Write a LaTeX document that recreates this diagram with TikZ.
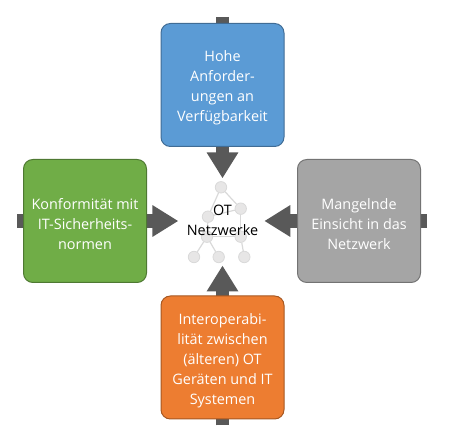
\documentclass[tikz,border=0pt]{standalone}
\usepackage{fontspec}
\setmainfont{Open Sans}
\usetikzlibrary{positioning, arrows.meta, backgrounds}
\definecolor{otBlue}{HTML}{5B9BD5}
\definecolor{otGreen}{HTML}{70AD47}
\definecolor{otGray}{HTML}{A5A5A5}
\definecolor{otOrange}{HTML}{ED7D31}
\definecolor{arrowGray}{HTML}{595959}
\definecolor{netFill}{HTML}{E7E6E6}
\definecolor{netLine}{HTML}{D9D9D9}
\newcommand{\toprule}{\rule{0pt}{12.5pt}}

\begin{document}
\begin{tikzpicture}[
    x=0.75pt, y=0.75pt,
    box/.style={draw, line width=0.75pt, rounded corners=7pt, text=white,
                minimum width=92.25pt, minimum height=92.25pt, inner sep=0pt,
                align=center, font=\fontsize{10.8}{15}\selectfont},
    arr/.style={-{Triangle[length=19.5pt, width=22.5pt]}, line width=10pt, draw=arrowGray},
    dot/.style={circle, fill=netFill, draw=netLine, line width=0.6pt, minimum size=8.6pt, inner sep=0pt},
    link/.style={draw=netLine, line width=0.9pt},
  ]
    \useasboundingbox (0,0) rectangle (450,432);

    \node[box, fill=otBlue, draw=otBlue!70!black] (avail) at (222.5,347)
      {\toprule Hohe\\Anforder-\\ungen an\\Verfügbarkeit};
    \node[box, fill=otGreen, draw=otGreen!70!black] (norm) at (85,211)
      {\toprule Konformität mit\\IT-Sicherheits-\\normen};
    \node[box, fill=otGray, draw=otGray!70!black] (insight) at (359,211)
      {\toprule Mangelnde\\Einsicht in das\\Netzwerk};
    \node[box, fill=otOrange, draw=otOrange!70!black] (interop) at (222.5,74.5)
      {\toprule Interoperabi-\\lität zwischen\\(älteren) OT\\Geräten und IT\\Systemen};

    % ends of the arrows behind the boxes
    \coordinate[above=4.5pt of avail]    (availEnd);
    \coordinate[below=23.5pt of avail]   (availTip);
    \coordinate[left=4.5pt of norm]      (normEnd);
    \coordinate[right=23.5pt of norm]    (normTip);
    \coordinate[right=4.5pt of insight]  (insightEnd);
    \coordinate[left=24.5pt of insight]  (insightTip);
    \coordinate[below=4.5pt of interop]  (interopEnd);
    \coordinate[above=22.5pt of interop] (interopTip);

    \begin{scope}[on background layer]
      \draw[arr] (availEnd)   -- (availTip);
      \draw[arr] (normEnd)    -- (normTip);
      \draw[arr] (insightEnd) -- (insightTip);
      \draw[arr] (interopEnd) -- (interopTip);
    \end{scope}

    % network behind the label
    \node[dot] (n1) at (221,244.7) {};
    \node[dot] (n2) at (240.7,223.3) {};
    \node[dot] (n3) at (208,215.3) {};
    \node[dot] (n4) at (207,195.3) {};
    \node[dot] (n5) at (240.7,195.3) {};
    \node[dot] (n6) at (194,175) {};
    \node[dot] (n7) at (218.7,175) {};
    \node[dot] (n8) at (244.3,175) {};

    \begin{scope}[on background layer]
      \foreach \a/\b in {n1/n2, n1/n3, n3/n2, n3/n4, n4/n5, n2/n5, n4/n6, n4/n7, n5/n8}
        \draw[link] (\a) -- (\b);
    \end{scope}

    \node[align=center, inner sep=0pt, font=\fontsize{10.8}{15}\selectfont] (net) at (222.5,212) {OT\\Netzwerke};
\end{tikzpicture}
\end{document}
